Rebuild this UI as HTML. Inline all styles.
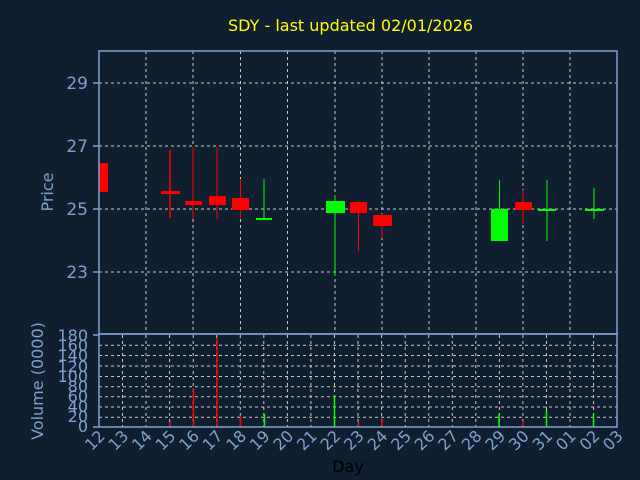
<!DOCTYPE html>
<html><head><meta charset="utf-8"><style>
html,body{margin:0;padding:0;background:#0f1f2f;}
svg{display:block;font-family:"DejaVu Sans","Liberation Sans",sans-serif;}
</style></head><body>
<svg width="640" height="480" viewBox="0 0 640 480" xmlns="http://www.w3.org/2000/svg">
<rect width="640" height="480" fill="#0f1f2f"/>
<text x="228" y="31" fill="#ffff00" font-size="16">SDY - last updated 02/01/2026</text>
<g stroke="#c8c8c8" stroke-width="1" stroke-dasharray="3,3" fill="none">
<line x1="99" y1="83" x2="617" y2="83"/><line x1="99" y1="146" x2="617" y2="146"/>
<line x1="99" y1="209" x2="617" y2="209"/><line x1="99" y1="272" x2="617" y2="272"/>
<line x1="146" y1="51" x2="146" y2="334"/><line x1="193" y1="51" x2="193" y2="334"/>
<line x1="240.5" y1="51" x2="240.5" y2="334"/><line x1="287.5" y1="51" x2="287.5" y2="334"/>
<line x1="335" y1="51" x2="335" y2="334"/><line x1="382" y1="51" x2="382" y2="334"/>
<line x1="429" y1="51" x2="429" y2="334"/><line x1="476" y1="51" x2="476" y2="334"/>
<line x1="523" y1="51" x2="523" y2="334"/><line x1="570" y1="51" x2="570" y2="334"/>
<line x1="99" y1="345.3" x2="617" y2="345.3"/><line x1="99" y1="355.5" x2="617" y2="355.5"/>
<line x1="99" y1="366" x2="617" y2="366"/><line x1="99" y1="376.5" x2="617" y2="376.5"/>
<line x1="99" y1="386.7" x2="617" y2="386.7"/><line x1="99" y1="396.7" x2="617" y2="396.7"/>
<line x1="99" y1="407" x2="617" y2="407"/><line x1="99" y1="417.3" x2="617" y2="417.3"/>
<line x1="122.5" y1="335" x2="122.5" y2="427"/><line x1="146" y1="335" x2="146" y2="427"/><line x1="169.6" y1="335" x2="169.6" y2="427"/><line x1="193.2" y1="335" x2="193.2" y2="427"/><line x1="216.7" y1="335" x2="216.7" y2="427"/><line x1="240.3" y1="335" x2="240.3" y2="427"/><line x1="263.8" y1="335" x2="263.8" y2="427"/><line x1="287.4" y1="335" x2="287.4" y2="427"/><line x1="310.9" y1="335" x2="310.9" y2="427"/><line x1="334.5" y1="335" x2="334.5" y2="427"/><line x1="358" y1="335" x2="358" y2="427"/><line x1="381.6" y1="335" x2="381.6" y2="427"/><line x1="405.2" y1="335" x2="405.2" y2="427"/><line x1="428.7" y1="335" x2="428.7" y2="427"/><line x1="452.3" y1="335" x2="452.3" y2="427"/><line x1="475.8" y1="335" x2="475.8" y2="427"/><line x1="499.4" y1="335" x2="499.4" y2="427"/><line x1="522.9" y1="335" x2="522.9" y2="427"/><line x1="546.5" y1="335" x2="546.5" y2="427"/><line x1="570" y1="335" x2="570" y2="427"/><line x1="593.6" y1="335" x2="593.6" y2="427"/>
</g>
<g>
<rect x="99" y="163" width="9" height="29" fill="#ff0000"/>
<line x1="170" y1="150" x2="170" y2="218" stroke="#ff0000" stroke-width="1.5"/><rect x="161" y="191" width="19" height="3" fill="#ff0000"/>
<line x1="193" y1="147" x2="193" y2="219" stroke="#ff0000" stroke-width="1"/><rect x="185" y="201" width="17" height="4" fill="#ff0000"/>
<line x1="217" y1="147" x2="217" y2="219" stroke="#ff0000" stroke-width="1"/><rect x="209" y="196" width="17" height="9" fill="#ff0000"/>
<line x1="240.5" y1="179" x2="240.5" y2="218" stroke="#ff0000" stroke-width="1"/><rect x="232" y="198" width="17" height="12" fill="#ff0000"/>
<line x1="264" y1="179" x2="264" y2="219" stroke="#00ff00" stroke-width="1"/><rect x="256" y="218" width="16" height="2" fill="#00ff00"/>
<line x1="335" y1="195" x2="335" y2="276" stroke="#00ff00" stroke-width="1"/><rect x="326" y="201" width="19" height="12" fill="#00ff00"/>
<line x1="358.5" y1="201" x2="358.5" y2="251" stroke="#ff0000" stroke-width="1"/><rect x="350" y="202" width="17" height="11" fill="#ff0000"/>
<line x1="382" y1="214" x2="382" y2="238" stroke="#ff0000" stroke-width="1"/><rect x="373" y="215" width="19" height="11" fill="#ff0000"/>
<line x1="499.5" y1="180" x2="499.5" y2="241" stroke="#00ff00" stroke-width="1"/><rect x="491" y="209" width="17" height="32" fill="#00ff00"/>
<line x1="523" y1="190" x2="523" y2="224" stroke="#ff0000" stroke-width="1"/><rect x="515" y="202" width="17" height="8" fill="#ff0000"/>
<line x1="547" y1="180" x2="547" y2="241" stroke="#00ff00" stroke-width="1"/><rect x="538" y="209" width="18" height="2" fill="#00ff00"/>
<line x1="594" y1="188" x2="594" y2="219" stroke="#00ff00" stroke-width="1"/><rect x="585" y="209" width="19" height="2" fill="#00ff00"/>
</g>
<g stroke-width="1.5">
<line x1="170" y1="422" x2="170" y2="427" stroke="#ff0000"/>
<line x1="193.5" y1="388" x2="193.5" y2="427" stroke="#ff0000"/>
<line x1="217" y1="338" x2="217" y2="427" stroke="#ff0000"/>
<line x1="240.5" y1="415.7" x2="240.5" y2="427" stroke="#ff0000"/>
<line x1="264.5" y1="414" x2="264.5" y2="427" stroke="#00ff00"/>
<line x1="334.5" y1="395" x2="334.5" y2="427" stroke="#00ff00"/>
<line x1="358.5" y1="421.7" x2="358.5" y2="427" stroke="#ff0000"/>
<line x1="382" y1="419" x2="382" y2="427" stroke="#ff0000"/>
<line x1="499" y1="414" x2="499" y2="427" stroke="#00ff00"/>
<line x1="523" y1="420.7" x2="523" y2="427" stroke="#ff0000"/>
<line x1="546.5" y1="410" x2="546.5" y2="427" stroke="#00ff00"/>
<line x1="593.5" y1="414" x2="593.5" y2="427" stroke="#00ff00"/>
</g>
<g stroke="#7fa0d0" stroke-width="1.5" fill="none">
<rect x="99" y="51" width="518" height="283"/>
<rect x="99" y="334" width="518" height="93"/>
<line x1="93" y1="83" x2="99" y2="83"/><line x1="93" y1="146" x2="99" y2="146"/><line x1="93" y1="209" x2="99" y2="209"/><line x1="93" y1="272" x2="99" y2="272"/>
<line x1="93" y1="335" x2="99" y2="335"/><line x1="93" y1="427" x2="99" y2="427"/>
</g>
<g fill="#7fa0d0" font-size="17" text-anchor="end">
<text x="88" y="89">29</text><text x="88" y="152">27</text><text x="88" y="215">25</text><text x="88" y="278">23</text>
</g>
<g fill="#7fa0d0" font-size="16" text-anchor="end">
<text x="88" y="341">180</text><text x="88" y="351">160</text><text x="88" y="361">140</text><text x="88" y="372">120</text><text x="88" y="382">100</text><text x="88" y="392">80</text><text x="88" y="402">60</text><text x="88" y="412">40</text><text x="88" y="422">20</text><text x="88" y="432">0</text>
</g>
<text transform="translate(53,192) rotate(-90)" fill="#7fa0d0" font-size="16" text-anchor="middle">Price</text>
<text transform="translate(43,381) rotate(-90)" fill="#7fa0d0" font-size="16" text-anchor="middle">Volume (0000)</text>
<g fill="#7fa0d0" font-size="16" text-anchor="end">
<text transform="translate(106,437) rotate(-45)">12</text><text transform="translate(129.5,437) rotate(-45)">13</text><text transform="translate(153,437) rotate(-45)">14</text><text transform="translate(176.6,437) rotate(-45)">15</text><text transform="translate(200.2,437) rotate(-45)">16</text><text transform="translate(223.7,437) rotate(-45)">17</text><text transform="translate(247.3,437) rotate(-45)">18</text><text transform="translate(270.8,437) rotate(-45)">19</text><text transform="translate(294.4,437) rotate(-45)">20</text><text transform="translate(317.9,437) rotate(-45)">21</text><text transform="translate(341.5,437) rotate(-45)">22</text><text transform="translate(365,437) rotate(-45)">23</text><text transform="translate(388.6,437) rotate(-45)">24</text><text transform="translate(412.2,437) rotate(-45)">25</text><text transform="translate(435.7,437) rotate(-45)">26</text><text transform="translate(459.3,437) rotate(-45)">27</text><text transform="translate(482.8,437) rotate(-45)">28</text><text transform="translate(506.4,437) rotate(-45)">29</text><text transform="translate(529.9,437) rotate(-45)">30</text><text transform="translate(553.5,437) rotate(-45)">31</text><text transform="translate(577,437) rotate(-45)">01</text><text transform="translate(600.6,437) rotate(-45)">02</text><text transform="translate(624,437) rotate(-45)">03</text>
</g>
<text x="348" y="472" fill="#000000" font-size="16" text-anchor="middle">Day</text>
</svg>
</body></html>
